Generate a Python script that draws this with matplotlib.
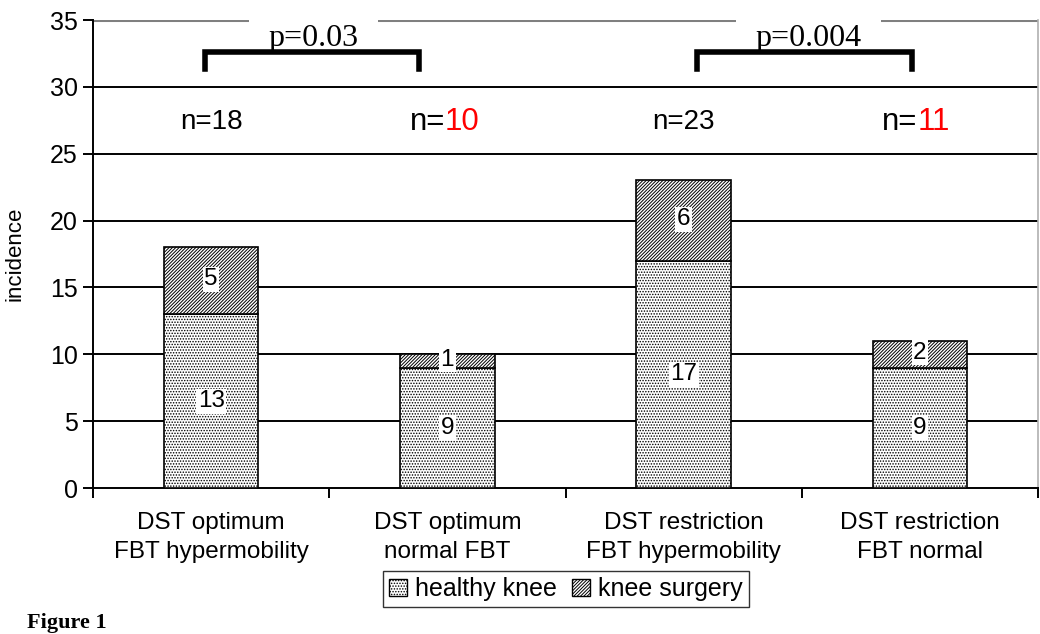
import matplotlib.pyplot as plt
from matplotlib.patches import Patch

groups = ['DST optimum\nFBT hypermobility', 'DST optimum\nnormal FBT',
          'DST restriction\nFBT hypermobility', 'DST restriction\nFBT normal']
healthy = [13, 9, 17, 9]
surgery = [5, 1, 6, 2]
totals = ['18', '10', '23', '11']
red_n = [False, True, False, True]
p_texts = ['p=0.03', 'p=0.004']
p_spans = [(-0.026, 0.88), (2.057, 2.967)]
p_centers = [0.435, 2.527]

plt.rcParams['font.family'] = ['Liberation Sans', 'DejaVu Sans']
plt.rcParams['hatch.linewidth'] = 0.7

fig = plt.figure(figsize=(10.4, 6.34), dpi=100)
ax = fig.add_axes([93 / 1040, 146 / 634, 945 / 1040, 468 / 634])

x = list(range(len(groups)))
ax.bar(x, healthy, width=0.4, color='white', edgecolor='black', hatch='......', lw=1.2, zorder=3)
ax.bar(x, surgery, width=0.4, bottom=healthy, color='white', edgecolor='black', hatch='//////////', lw=1.2, zorder=3)

for i in x:
    ax.text(i, healthy[i] / 2, str(healthy[i]), ha='center', va='center', fontsize=17.5, zorder=5,
            bbox=dict(facecolor='white', edgecolor='none', pad=1))
    ax.text(i, healthy[i] + surgery[i] / 2 + 0.1, str(surgery[i]), ha='center', va='center', fontsize=17.5, zorder=5,
            bbox=dict(facecolor='white', edgecolor='none', pad=1))

# n= labels
for i in x:
    if red_n[i]:
        ax.text(i - 0.01, 27.4, 'n=', ha='right', va='center', fontsize=22.5, zorder=5)
        ax.text(i - 0.01, 27.4, totals[i], ha='left', va='center', fontsize=22.5, color='red', zorder=5)
    else:
        ax.text(i, 27.4, 'n=' + totals[i], ha='center', va='center', fontsize=20, zorder=5)

# gridlines
for v in range(5, 35, 5):
    ax.axhline(v, color='black', lw=1.4, zorder=1)
ax.axhline(35, color='#808080', lw=2.2, zorder=1)

# significance brackets
for (xl, xr), xc, pt in zip(p_spans, p_centers, p_texts):
    ax.plot([xl, xl, xr, xr], [31.3, 32.6, 32.6, 31.3], color='black', lw=4, zorder=6,
            solid_joinstyle='miter', clip_on=False)
    ax.text(xc, 33.6, pt, ha='center', va='center', fontsize=23, family='Liberation Serif',
            zorder=5, bbox=dict(facecolor='white', edgecolor='none', pad=14))

ax.set_xlim(-0.5, 3.5)
ax.set_ylim(0, 35)
ax.set_yticks(range(0, 40, 5))
ax.tick_params(axis='y', labelsize=18, length=7, width=1.4, direction='out', pad=4)
ax.set_xticks([-0.5, 0.5, 1.5, 2.5, 3.5])
ax.set_xticklabels([])
ax.tick_params(axis='x', which='major', length=7, width=1.4, direction='out')
ax.set_xticks(x, minor=True)
ax.set_xticklabels(groups, minor=True, fontsize=17.5, linespacing=1.45)
ax.tick_params(axis='x', which='minor', length=0, pad=17)

ax.spines['top'].set_visible(False)
ax.spines['left'].set_linewidth(1.4)
ax.spines['bottom'].set_linewidth(1.4)
ax.spines['right'].set_linewidth(1.2)
ax.spines['right'].set_color('#b0b0b0')

ax.set_ylabel('incidence', fontsize=16)
ax.yaxis.set_label_coords(-0.071, 0.5)

handles = [Patch(facecolor='white', edgecolor='black', hatch='......', label='healthy knee'),
           Patch(facecolor='white', edgecolor='black', hatch='//////////', label='knee surgery')]
fig.legend(handles=handles, loc='center', bbox_to_anchor=(566 / 1040, 1 - 589 / 634), ncol=2,
           fontsize=18, frameon=True, fancybox=False, edgecolor='black', handlelength=0.7,
           handleheight=0.7, handletextpad=0.35, columnspacing=0.6, borderpad=0.25)

fig.text(27 / 1040, 1 / 634, 'Figure 1', fontsize=16, fontweight='bold', family='Liberation Serif',
         va='bottom', ha='left')

fig.savefig('out.png', dpi=100)
